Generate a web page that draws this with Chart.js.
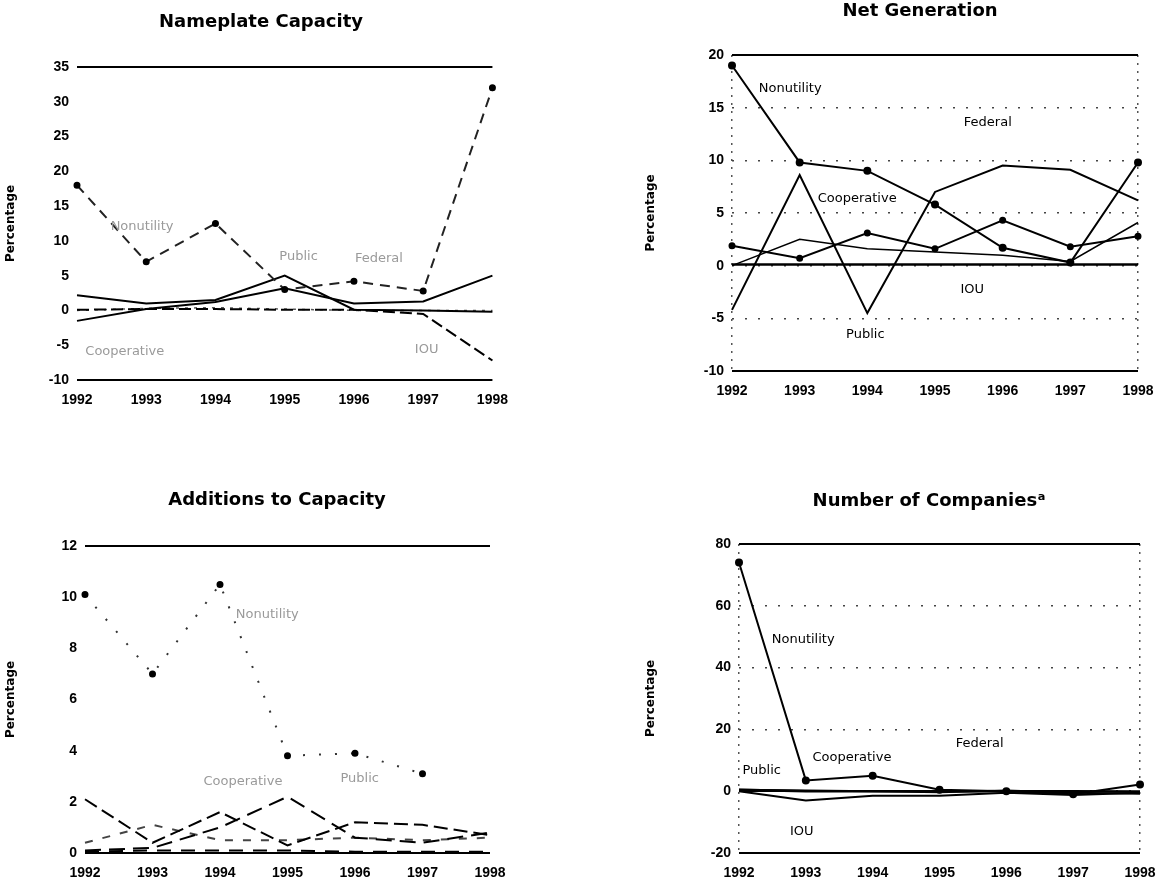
<!DOCTYPE html>
<html>
<head>
<meta charset="utf-8">
<script src="https://cdn.jsdelivr.net/npm/chart.js@4.4.0/dist/chart.umd.min.js"></script>
<style>
  body { margin: 0; background: #fff; }
  canvas { position: absolute; }
</style>
</head>
<body>
<canvas id="cap" width="520" height="420" style="left:0;top:0"></canvas>
<canvas id="gen" width="532" height="420" style="left:640px;top:0"></canvas>
<canvas id="add" width="520" height="404" style="left:0;top:480px"></canvas>
<canvas id="cos" width="532" height="404" style="left:640px;top:480px"></canvas>
<script>
const years = ['1992', '1993', '1994', '1995', '1996', '1997', '1998'];

// Nameplate Capacity
const capNonutility  = [18, 7, 12.5, 3, 4.2, 2.8, 32];
const capPublic      = [2.2, 1, 1.5, 5, 0.1, 0, -0.2];
const capCooperative = [-1.5, 0.2, 1.2, 3.2, 1, 1.3, 5];
const capIOU         = [0.1, 0.2, 0.2, 0.1, 0.1, -0.5, -7.2];
const capFederal     = [0, 0.3, 0.4, 0.2, 0, 0, 0];

// Net Generation
const genNonutility  = [19, 9.8, 9, 5.8, 1.7, 0.3, 9.8];
const genPublic      = [-4.2, 8.6, -4.5, 7, 9.5, 9.1, 6.2];
const genCooperative = [1.9, 0.7, 3.1, 1.6, 4.3, 1.8, 2.8];
const genFederal     = [0, 2.5, 1.6, 1.3, 1.0, 0.4, 4.1];
const genIOU         = [0.1, 0.1, 0.1, 0.1, 0.1, 0.1, 0.1];

// Additions to Capacity
const addNonutility  = [10.1, 7.0, 10.5, 3.8, 3.9, 3.1, null];
const addFederal     = [2.1, 0.4, 1.6, 0.3, 1.2, 1.1, 0.7];
const addPublic      = [0.1, 0.2, 1.0, 2.2, 0.6, 0.4, 0.8];
const addCooperative = [0.4, 1.1, 0.5, 0.5, 0.6, 0.5, 0.6];
const addIOU         = [0.05, 0.1, 0.1, 0.1, 0.05, 0.05, 0.05];

// Number of Companies
const cosNonutility  = [74, 3.5, 5, 0.5, 0, -1, 2.2];
const cosIOU         = [0, -3, -1.5, -1.5, -0.5, -1.2, -0.5];
const cosPublic      = [0.5, 0, 0, 0, 0, 0, -0.2];
const cosCooperative = [0.5, 0.2, 0, -0.3, 0.2, -0.5, -0.8];
const cosFederal     = [0, 0, 0, 0, 0, 0, 0];

const FONT = "'DejaVu Sans', 'Liberation Sans', sans-serif";
const TICKFONT = "'Liberation Sans', Arial, sans-serif";

// panel title + series names written inside the plot
const textLabels = {
    id: 'textLabels',
    afterDatasetsDraw(chart, args, opts) {
        const {ctx, scales: {x, y}} = chart;
        ctx.save();
        ctx.textAlign = 'center';
        ctx.textBaseline = 'middle';
        ctx.fillStyle = '#000';
        ctx.font = 'bold 18px ' + FONT;
        ctx.fillText(opts.title, opts.titleX, opts.titleY);
        ctx.font = '13px ' + FONT;
        (opts.items || []).forEach(it => {
            const px = x.left + (x.right - x.left) * it.at / (years.length - 1);
            ctx.fillStyle = it.color || '#000';
            ctx.fillText(it.text, px, y.getPixelForValue(it.val));
        });
        ctx.restore();
    }
};

function line(data, opt) {
    return Object.assign({
        data: data,
        borderColor: '#000',
        borderWidth: 2,
        pointRadius: 0,
        pointBackgroundColor: '#000',
        pointBorderColor: '#000',
        tension: 0,
        fill: false
    }, opt || {});
}

function makeChart(id, title, datasets, ymin, ymax, step, dotted, items, lay) {
    const edge = v => v === ymin || v === ymax;
    new Chart(document.getElementById(id), {
        type: 'line',
        data: { labels: years, datasets: datasets },
        options: {
            responsive: false,
            animation: false,
            layout: { padding: { top: lay.top, right: lay.padRight } },
            plugins: {
                legend: { display: false },
                tooltip: { enabled: false },
                title: { display: false },
                textLabels: { items: items, title: title, titleX: lay.titleX, titleY: lay.titleY }
            },
            scales: {
                x: {
                    offset: false,
                    afterFit: s => { s.height = lay.xHeight; },
                    grid: {
                        drawTicks: false,
                        color: c => dotted && (c.index === 0 || c.index === years.length - 1) ? '#555' : 'transparent',
                        lineWidth: 1.5
                    },
                    border: { display: false, dash: [2, 6] },
                    ticks: {
                        color: '#000',
                        padding: 12,
                        maxRotation: 0,
                        font: { family: TICKFONT, size: 14, weight: 'bold' }
                    }
                },
                y: {
                    min: ymin,
                    max: ymax,
                    afterFit: s => { s.width = lay.yWidth; },
                    grid: {
                        drawTicks: false,
                        color: c => edge(c.tick.value) ? '#000' : (dotted ? '#444' : 'transparent'),
                        lineWidth: c => edge(c.tick.value) ? 2 : 1.5
                    },
                    border: {
                        display: false,
                        dash: c => edge(c.tick.value) ? [] : [2, 11]
                    },
                    ticks: {
                        stepSize: step,
                        color: '#000',
                        padding: 8,
                        font: { family: TICKFONT, size: 14, weight: 'bold' }
                    },
                    title: {
                        display: true,
                        text: 'Percentage',
                        color: '#000',
                        font: { family: FONT, size: 12, weight: 'bold' }
                    }
                }
            }
        },
        plugins: [textLabels]
    });
}

const faded = '#9a9a9a';

makeChart('cap', 'Nameplate Capacity', [
    line(capNonutility, { borderDash: [10, 7], pointRadius: 2.5, borderColor: '#222' }),
    line(capPublic),
    line(capCooperative),
    line(capIOU, { borderDash: [12, 5] }),
    line(capFederal, { borderDash: [3, 6], borderColor: '#555', borderWidth: 1.5 })
], -10, 35, 5, false, [
    { text: 'Nonutility', at: 0.94, val: 12, color: faded },
    { text: 'Cooperative', at: 0.69, val: -5.9, color: faded },
    { text: 'Public', at: 3.2, val: 7.7, color: faded },
    { text: 'Federal', at: 4.36, val: 7.5, color: faded },
    { text: 'IOU', at: 5.05, val: -5.7, color: faded }
], { yWidth: 77, padRight: 25, top: 67, xHeight: 40, titleX: 261, titleY: 22 });

makeChart('gen', 'Net Generation', [
    line(genNonutility, { pointRadius: 3 }),
    line(genPublic),
    line(genCooperative, { pointRadius: 2.5 }),
    line(genFederal, { borderWidth: 1.5 }),
    line(genIOU, { borderWidth: 2.5 })
], -10, 20, 5, true, [
    { text: 'Nonutility', at: 0.86, val: 16.8 },
    { text: 'Federal', at: 3.78, val: 13.6 },
    { text: 'Cooperative', at: 1.85, val: 6.4 },
    { text: 'IOU', at: 3.55, val: -2.3 },
    { text: 'Public', at: 1.97, val: -6.5 }
], { yWidth: 92, padRight: 34, top: 55, xHeight: 49, titleX: 280, titleY: 11 });

makeChart('add', 'Additions to Capacity', [
    line(addNonutility, { borderDash: [2, 14], pointRadius: 2.5, borderColor: '#333' }),
    line(addFederal, { borderDash: [14, 6] }),
    line(addPublic, { borderDash: [16, 8] }),
    line(addCooperative, { borderDash: [8, 10], borderColor: '#444' }),
    line(addIOU, { borderDash: [14, 10] })
], 0, 12, 2, false, [
    { text: 'Nonutility', at: 2.7, val: 9.3, color: faded },
    { text: 'Cooperative', at: 2.34, val: 2.8, color: faded },
    { text: 'Public', at: 4.07, val: 2.9, color: faded }
], { yWidth: 85, padRight: 30, top: 66, xHeight: 31, titleX: 277, titleY: 20 });

makeChart('cos', 'Number of Companies\u1D43', [
    line(cosNonutility, { pointRadius: 3 }),
    line(cosIOU),
    line(cosPublic, { borderWidth: 2.5 }),
    line(cosCooperative),
    line(cosFederal, { borderWidth: 1.5 })
], -20, 80, 20, true, [
    { text: 'Nonutility', at: 0.96, val: 49 },
    { text: 'Cooperative', at: 1.69, val: 10.9 },
    { text: 'Public', at: 0.34, val: 6.8 },
    { text: 'Federal', at: 3.6, val: 15.5 },
    { text: 'IOU', at: 0.94, val: -13.2 }
], { yWidth: 99, padRight: 32, top: 64, xHeight: 31, titleX: 289, titleY: 21 });
</script>
</body>
</html>
